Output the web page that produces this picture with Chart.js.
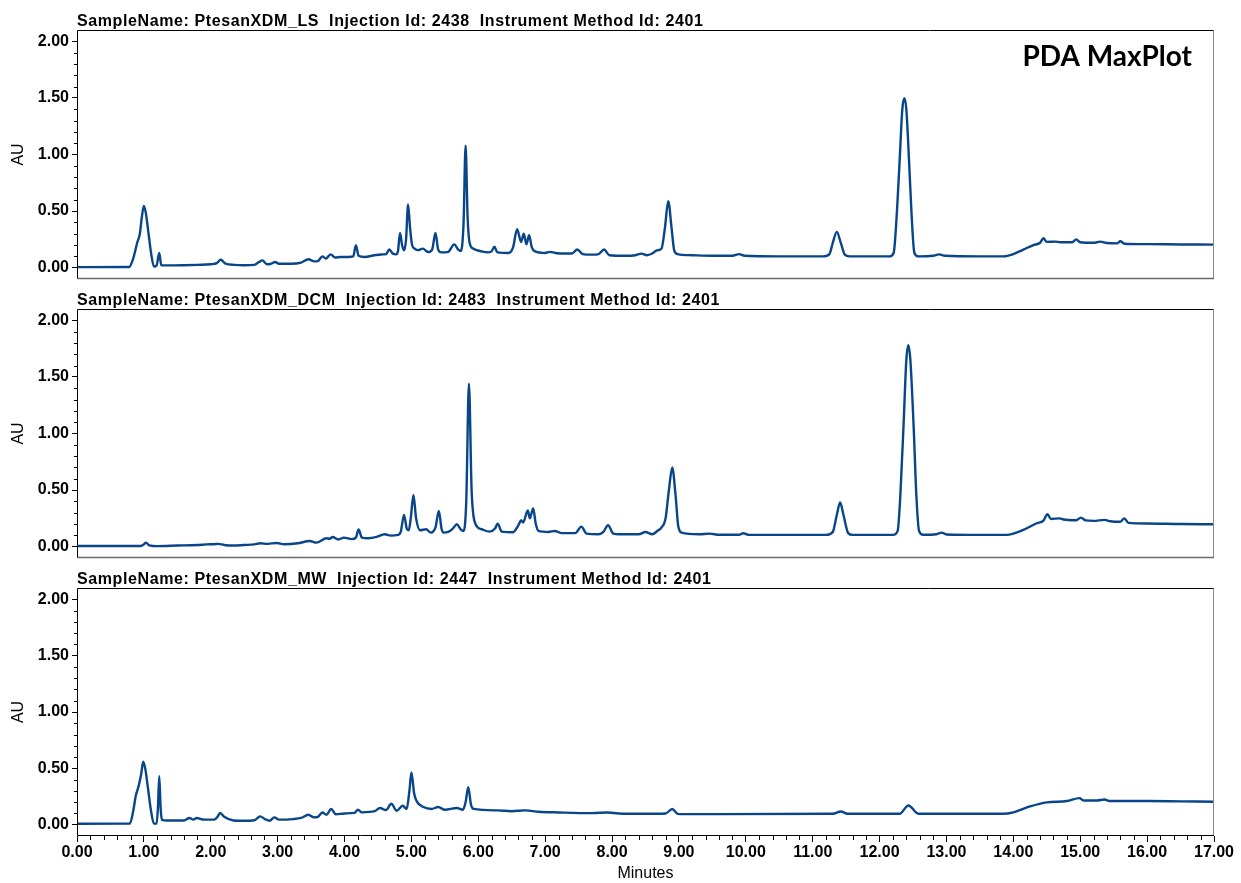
<!DOCTYPE html>
<html>
<head>
<meta charset="utf-8">
<title>PDA MaxPlot</title>
<script src="https://cdn.jsdelivr.net/npm/chart.js@4/dist/chart.umd.min.js"></script>
<style>
  html, body { margin: 0; padding: 0; background: #fff; }
  #wrap { position: relative; width: 1241px; height: 883px; overflow: hidden; background: #fff; }
  #wrap canvas { position: absolute; left: 0; }
</style>
</head>
<body>
<div id="wrap">
  <canvas id="pLS"  width="1241" height="281" style="top:0px;width:1241px;height:281px"></canvas>
  <canvas id="pDCM" width="1241" height="278" style="top:281px;width:1241px;height:278px"></canvas>
  <canvas id="pMW"  width="1241" height="324" style="top:559px;width:1241px;height:324px"></canvas>
</div>
<script>
// ---- Chromatogram traces: [retention time (min), absorbance (AU)] ----
const lsTrace = [
  [0.00,0.005],[0.78,0.006],[0.84,0.08],[0.90,0.22],[0.94,0.30],[0.97,0.45],[1.00,0.546],[1.03,0.48],
  [1.07,0.30],[1.11,0.12],[1.15,0.01],[1.19,0.02],[1.23,0.13],[1.26,0.02],[1.35,0.02],[1.60,0.022],
  [1.80,0.025],[2.00,0.03],[2.09,0.04],[2.15,0.07],[2.22,0.035],[2.35,0.025],[2.50,0.022],[2.65,0.025],
  [2.72,0.05],[2.77,0.065],[2.84,0.03],[2.90,0.035],[2.96,0.05],[3.02,0.035],[3.20,0.035],[3.35,0.045],
  [3.46,0.074],[3.55,0.056],[3.60,0.058],[3.67,0.10],[3.72,0.08],[3.79,0.118],[3.86,0.09],[3.94,0.094],
  [4.05,0.095],[4.13,0.10],[4.17,0.198],[4.21,0.105],[4.30,0.095],[4.45,0.11],[4.55,0.117],[4.62,0.12],
  [4.67,0.16],[4.72,0.125],[4.77,0.118],[4.80,0.15],[4.83,0.307],[4.86,0.20],[4.89,0.153],[4.92,0.25],
  [4.95,0.558],[4.98,0.35],[5.01,0.20],[5.05,0.168],[5.10,0.155],[5.17,0.168],[5.25,0.138],[5.31,0.16],
  [5.36,0.307],[5.40,0.16],[5.45,0.135],[5.55,0.14],[5.64,0.206],[5.70,0.16],[5.74,0.147],[5.78,0.40],
  [5.81,1.078],[5.84,0.45],[5.87,0.22],[5.92,0.17],[6.05,0.144],[6.15,0.135],[6.20,0.145],[6.24,0.185],
  [6.28,0.14],[6.32,0.133],[6.45,0.13],[6.52,0.18],[6.58,0.34],[6.64,0.227],[6.68,0.30],[6.72,0.206],
  [6.76,0.286],[6.80,0.18],[6.85,0.144],[7.00,0.13],[7.07,0.14],[7.15,0.13],[7.30,0.125],[7.40,0.125],
  [7.48,0.16],[7.56,0.12],[7.70,0.115],[7.80,0.12],[7.88,0.16],[7.96,0.11],[8.20,0.105],[8.35,0.11],
  [8.44,0.124],[8.52,0.11],[8.60,0.125],[8.67,0.153],[8.74,0.17],[8.79,0.35],[8.84,0.588],[8.89,0.35],
  [8.93,0.15],[8.98,0.12],[9.20,0.11],[9.50,0.105],[9.80,0.105],[9.90,0.12],[9.98,0.105],[10.50,0.10],
  [11.15,0.10],[11.25,0.12],[11.30,0.22],[11.36,0.316],[11.42,0.22],[11.48,0.115],[11.55,0.10],[12.15,0.10],
  [12.21,0.13],[12.26,0.50],[12.30,0.95],[12.34,1.40],[12.37,1.498],[12.40,1.40],[12.44,0.95],[12.48,0.45],
  [12.52,0.13],[12.58,0.10],[12.80,0.105],[12.89,0.118],[12.98,0.105],[13.50,0.10],[13.85,0.10],[14.00,0.12],
  [14.15,0.16],[14.30,0.20],[14.40,0.22],[14.45,0.26],[14.50,0.228],[14.63,0.23],[14.70,0.225],[14.88,0.225],
  [14.94,0.25],[15.00,0.225],[15.20,0.22],[15.30,0.23],[15.40,0.218],[15.55,0.215],[15.60,0.233],[15.66,0.212],
  [16.00,0.208],[16.50,0.205],[17.00,0.204]
];

const dcmTrace = [
  [0.00,0.006],[0.95,0.006],[1.00,0.02],[1.03,0.036],[1.08,0.012],[1.20,0.005],[1.50,0.01],[1.80,0.015],
  [1.94,0.02],[2.05,0.022],[2.11,0.025],[2.20,0.015],[2.33,0.01],[2.50,0.015],[2.65,0.02],[2.74,0.03],
  [2.85,0.025],[2.99,0.033],[3.09,0.022],[3.30,0.03],[3.48,0.05],[3.58,0.036],[3.73,0.074],[3.78,0.07],
  [3.82,0.086],[3.91,0.064],[3.99,0.08],[4.11,0.067],[4.17,0.08],[4.21,0.152],[4.26,0.08],[4.35,0.075],
  [4.48,0.086],[4.60,0.11],[4.69,0.098],[4.80,0.104],[4.84,0.13],[4.89,0.28],[4.93,0.16],[4.96,0.145],
  [4.99,0.25],[5.03,0.456],[5.07,0.25],[5.13,0.145],[5.22,0.154],[5.29,0.124],[5.36,0.17],[5.41,0.316],
  [5.45,0.16],[5.48,0.124],[5.55,0.13],[5.62,0.16],[5.68,0.198],[5.74,0.15],[5.78,0.139],[5.82,0.40],
  [5.86,1.44],[5.90,0.50],[5.95,0.213],[6.05,0.154],[6.17,0.133],[6.25,0.16],[6.29,0.204],[6.35,0.133],
  [6.52,0.128],[6.60,0.19],[6.64,0.234],[6.67,0.213],[6.74,0.32],[6.77,0.25],[6.82,0.337],[6.86,0.20],
  [6.90,0.139],[7.05,0.13],[7.14,0.139],[7.25,0.12],[7.45,0.12],[7.54,0.177],[7.62,0.115],[7.80,0.11],
  [7.87,0.13],[7.94,0.19],[8.02,0.115],[8.10,0.11],[8.40,0.11],[8.50,0.13],[8.60,0.11],[8.68,0.14],
  [8.74,0.17],[8.80,0.25],[8.85,0.50],[8.90,0.70],[8.95,0.45],[8.99,0.18],[9.04,0.124],[9.30,0.11],
  [9.46,0.115],[9.60,0.105],[9.90,0.105],[9.96,0.119],[10.05,0.104],[11.20,0.104],[11.30,0.13],[11.36,0.28],
  [11.41,0.39],[11.46,0.28],[11.53,0.12],[11.60,0.104],[12.20,0.104],[12.27,0.14],[12.31,0.45],[12.36,1.10],
  [12.40,1.65],[12.43,1.78],[12.46,1.65],[12.51,1.05],[12.55,0.45],[12.59,0.14],[12.65,0.105],[12.85,0.11],
  [12.93,0.124],[13.00,0.108],[13.50,0.104],[13.90,0.104],[14.00,0.115],[14.15,0.148],[14.35,0.207],[14.45,0.23],
  [14.51,0.287],[14.56,0.245],[14.69,0.25],[14.75,0.24],[14.94,0.234],[15.01,0.257],[15.08,0.232],[15.20,0.228],
  [15.36,0.237],[15.45,0.225],[15.60,0.22],[15.66,0.25],[15.72,0.21],[16.00,0.205],[16.50,0.20],[17.00,0.198]
];

const mwTrace = [
  [0.00,0.009],[0.79,0.01],[0.84,0.12],[0.88,0.26],[0.92,0.34],[0.96,0.45],[0.99,0.56],[1.02,0.50],
  [1.06,0.33],[1.10,0.15],[1.15,0.01],[1.19,0.01],[1.21,0.15],[1.23,0.43],[1.25,0.15],[1.27,0.044],
  [1.35,0.038],[1.60,0.038],[1.68,0.06],[1.74,0.045],[1.79,0.06],[1.90,0.045],[2.05,0.045],[2.10,0.07],
  [2.14,0.104],[2.20,0.07],[2.34,0.038],[2.50,0.035],[2.65,0.04],[2.74,0.074],[2.81,0.05],[2.88,0.035],
  [2.95,0.065],[3.02,0.045],[3.23,0.05],[3.35,0.06],[3.46,0.089],[3.54,0.065],[3.60,0.07],[3.67,0.109],
  [3.73,0.089],[3.80,0.139],[3.87,0.092],[4.00,0.10],[4.15,0.105],[4.20,0.133],[4.26,0.11],[4.45,0.12],
  [4.53,0.148],[4.62,0.13],[4.70,0.186],[4.78,0.124],[4.87,0.168],[4.93,0.14],[4.97,0.30],[5.00,0.464],
  [5.04,0.28],[5.08,0.207],[5.18,0.157],[5.30,0.14],[5.40,0.157],[5.50,0.133],[5.68,0.148],[5.77,0.133],
  [5.81,0.20],[5.85,0.334],[5.89,0.18],[5.93,0.14],[6.28,0.127],[6.50,0.12],[6.70,0.127],[6.90,0.115],
  [7.20,0.109],[7.70,0.103],[7.94,0.109],[8.10,0.10],[8.50,0.097],[8.80,0.10],[8.90,0.139],[8.97,0.10],
  [9.02,0.094],[11.30,0.097],[11.42,0.118],[11.52,0.097],[12.30,0.097],[12.43,0.171],[12.58,0.097],[13.85,0.097],
  [14.00,0.11],[14.25,0.162],[14.50,0.198],[14.80,0.21],[14.99,0.236],[15.05,0.215],[15.25,0.215],[15.36,0.224],
  [15.45,0.21],[16.00,0.21],[16.50,0.207],[17.00,0.204]
];

// ---- Panel headers and axis ticks ----
const panelTitles = [
  'SampleName: PtesanXDM_LS  Injection Id: 2438  Instrument Method Id: 2401',
  'SampleName: PtesanXDM_DCM  Injection Id: 2483  Instrument Method Id: 2401',
  'SampleName: PtesanXDM_MW  Injection Id: 2447  Instrument Method Id: 2401'
];
const yTickValues = [0, 0.5, 1.0, 1.5, 2.0];
const xTickValues = [0,1,2,3,4,5,6,7,8,9,10,11,12,13,14,15,16,17];
const plotLabel = 'PDA MaxPlot';
const yAxisTitle = 'AU';
const xAxisTitle = 'Minutes';

// ---- Styling ----
const SANS = "'Liberation Sans', Arial, Helvetica, sans-serif";
const TRACE_COLOR = '#084689';
Chart.defaults.color = '#000';
Chart.defaults.font.family = SANS;

// panel frame: black left/top edges, grey right/bottom edges
const framePlugin = {
  id: 'frame',
  afterDraw(chart, args, opts) {
    const { ctx, chartArea: a } = chart;
    const L = Math.round(a.left) + 0.5, T = Math.round(a.top) + 0.5;
    const R = Math.round(a.right) - 0.5, B = Math.round(a.bottom) - 0.5;
    ctx.save();
    ctx.lineWidth = 1;
    ctx.strokeStyle = '#8a8a8a';
    ctx.beginPath(); ctx.moveTo(R, T); ctx.lineTo(R, B); ctx.stroke();
    ctx.strokeStyle = opts.bottomColor || '#6a6a6a';
    ctx.lineWidth = opts.bottomWidth || 1.5;
    ctx.beginPath(); ctx.moveTo(L, B); ctx.lineTo(R + 0.5, B); ctx.stroke();
    ctx.lineWidth = 1;
    ctx.strokeStyle = '#000';
    ctx.beginPath(); ctx.moveTo(L, B); ctx.lineTo(L, T); ctx.lineTo(R, T); ctx.stroke();
    ctx.restore();
  }
};

// short unlabelled ticks between the labelled ones
const minorTickPlugin = {
  id: 'minorTicks',
  afterDraw(chart, args, opts) {
    const { ctx, chartArea: a } = chart;
    const y = chart.scales.y;
    ctx.save();
    ctx.strokeStyle = '#000';
    ctx.lineWidth = 1;
    ctx.beginPath();
    for (let i = 1; i < 20; i++) {
      if (i % 5 === 0) continue;
      const p = Math.round(y.getPixelForValue(i / 10)) + 0.5;
      ctx.moveTo(a.left - 3, p); ctx.lineTo(a.left, p);
    }
    if (opts.xMinor) {
      const x = chart.scales.x;
      for (let i = 1; i < 85; i++) {
        if (i % 5 === 0) continue;
        const p = Math.round(x.getPixelForValue(i * 0.2)) + 0.5;
        ctx.moveTo(p, a.bottom); ctx.lineTo(p, a.bottom + 4);
      }
    }
    ctx.stroke();
    ctx.restore();
  }
};

// header line above each panel, plus the plot label on the first one
const headerPlugin = {
  id: 'header',
  afterDraw(chart, args, opts) {
    const { ctx, chartArea: a } = chart;
    ctx.save();
    ctx.fillStyle = '#000';
    ctx.font = 'bold 16px ' + SANS;
    ctx.textAlign = 'left';
    ctx.textBaseline = 'alphabetic';
    if ('letterSpacing' in ctx) ctx.letterSpacing = '0.6px';
    ctx.fillText(opts.text, a.left, a.top - 4);
    if (opts.label) {
      if ('letterSpacing' in ctx) ctx.letterSpacing = '0px';
      ctx.font = "bold 28px Lato, 'Open Sans', sans-serif";
      ctx.textAlign = 'right';
      ctx.textBaseline = 'middle';
      ctx.fillText(opts.label, 1192, 57);
    }
    ctx.restore();
  }
};

function makePanel(canvasId, trace, title, cfg) {
  const points = trace.map(([t, v]) => ({ x: t, y: v }));
  return new Chart(document.getElementById(canvasId), {
    type: 'line',
    data: {
      datasets: [{
        data: points,
        borderColor: TRACE_COLOR,
        borderWidth: 2.4,
        pointRadius: 0,
        fill: false,
        cubicInterpolationMode: 'monotone'
      }]
    },
    options: {
      responsive: false,
      animation: false,
      devicePixelRatio: 1,
      layout: { padding: { left: 0, right: 27, top: cfg.padTop, bottom: cfg.padBottom } },
      plugins: {
        legend: { display: false },
        tooltip: { enabled: false },
        header: { text: title, label: cfg.label || null },
        minorTicks: { xMinor: !!cfg.showX },
        frame: cfg.showX ? { bottomColor: '#000', bottomWidth: 1 } : {}
      },
      scales: {
        x: {
          type: 'linear',
          min: 0,
          max: 17,
          display: !!cfg.showX,
          afterBuildTicks: s => { s.ticks = xTickValues.map(v => ({ value: v })); },
          afterFit: s => { if (cfg.showX) s.height = 47; },
          border: { display: false },
          grid: { display: true, drawOnChartArea: false, drawTicks: true, tickLength: 6, color: '#000' },
          ticks: {
            autoSkip: false,
            maxRotation: 0,
            padding: 1,
            font: { size: 16, weight: 'bold' },
            callback: v => Number(v).toFixed(2)
          },
          title: { display: true, text: xAxisTitle, font: { size: 16 }, padding: { top: 0, bottom: 0 } }
        },
        y: {
          type: 'linear',
          min: -0.1,
          max: 2.1,
          afterBuildTicks: s => { s.ticks = yTickValues.map(v => ({ value: v })); },
          afterFit: s => { s.width = 77; s.paddingTop = 0; s.paddingBottom = 0; },
          border: { display: false },
          grid: { display: true, drawOnChartArea: false, drawTicks: true, tickLength: 5, color: '#000' },
          ticks: {
            padding: 3,
            font: { size: 16, weight: 'bold' },
            callback: v => Number(v).toFixed(2)
          },
          title: { display: true, text: yAxisTitle, font: { size: 16 }, padding: { top: 9, bottom: 0 } }
        }
      }
    },
    plugins: [framePlugin, minorTickPlugin, headerPlugin]
  });
}

makePanel('pLS',  lsTrace,  panelTitles[0], { padTop: 30, padBottom: 2, label: plotLabel });
makePanel('pDCM', dcmTrace, panelTitles[1], { padTop: 28, padBottom: 1 });
makePanel('pMW',  mwTrace,  panelTitles[2], { padTop: 29, padBottom: 0, showX: true });
</script>
</body>
</html>
